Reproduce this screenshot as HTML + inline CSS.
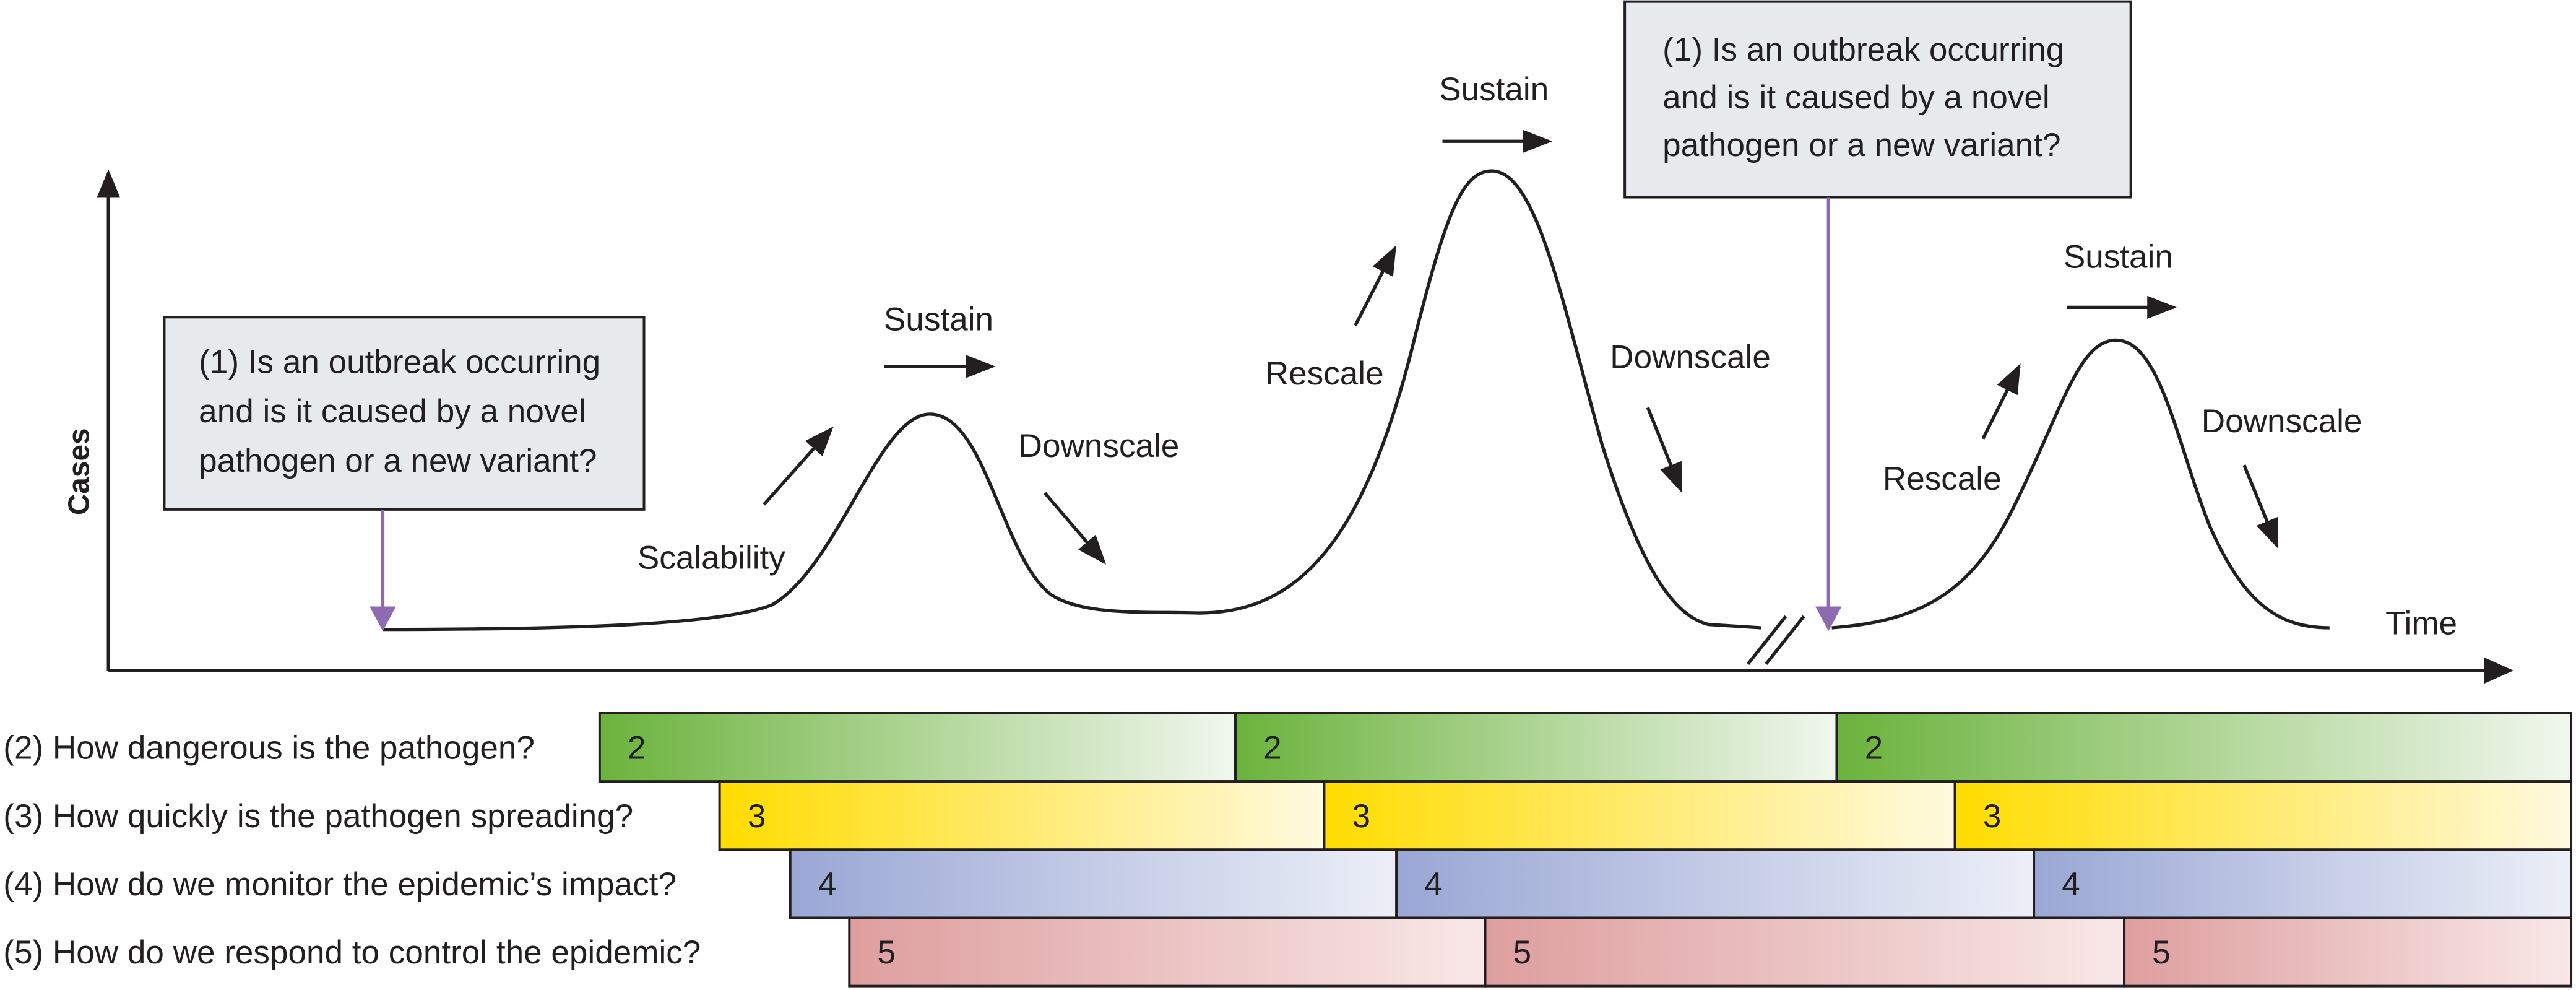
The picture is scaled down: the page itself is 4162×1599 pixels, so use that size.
<!DOCTYPE html>
<html><head><meta charset="utf-8"><style>
html,body{margin:0;padding:0;background:#fff;}
svg{display:block;}
text{font-family:"Liberation Sans",sans-serif;fill:#231f20;}
</style></head><body>
<svg id="chart" width="4162" height="1599" viewBox="0 0 1568 602.4" preserveAspectRatio="none" xmlns="http://www.w3.org/2000/svg">
<defs>
<marker id="ah" viewBox="0 0 18 14" refX="16" refY="7" markerWidth="18" markerHeight="14" markerUnits="userSpaceOnUse" orient="auto"><path d="M0,0 L18,7 L0,14 Z" fill="#231f20"/></marker>
<linearGradient id="g2"><stop offset="0" stop-color="#6bb33c"/><stop offset="1" stop-color="#f1f7ee"/></linearGradient>
<linearGradient id="g3"><stop offset="0" stop-color="#ffdc00"/><stop offset="1" stop-color="#fffae0"/></linearGradient>
<linearGradient id="g4"><stop offset="0" stop-color="#9aa7d5"/><stop offset="1" stop-color="#eceff7"/></linearGradient>
<linearGradient id="g5"><stop offset="0" stop-color="#de9e9e"/><stop offset="1" stop-color="#f9e8e8"/></linearGradient>
</defs>
<line x1="66" y1="408" x2="66" y2="112" stroke="#231f20" stroke-width="2"/>
<path d="M59,120 L66,103 L73,120 Z" fill="#231f20"/>
<line x1="66" y1="408" x2="1518" y2="408" stroke="#231f20" stroke-width="2"/>
<path d="M1512,400 L1530,408 L1512,416 Z" fill="#231f20"/>
<text transform="translate(54,287) rotate(-90)" text-anchor="middle" font-size="18" font-weight="bold">Cases</text>
<text x="1452" y="386" font-size="20">Time</text>
<path fill="none" stroke="#231f20" stroke-width="2" d="M233,383 C350,383 440,380 470,368 C510,345 535,252 566,252 C600,252 610,340 640,362 C660,375 700,372 730,373 C790,373 830,330 860,210 C880,130 890,104 908,104 C935,104 950,180 975,270 C1000,350 1020,375 1040,380 L1072,382"/>
<path d="M1064,404 L1087,375 M1075,404 L1098,375" stroke="#231f20" stroke-width="2" fill="none"/>
<path fill="none" stroke="#231f20" stroke-width="2" d="M1115,382 C1170,378 1200,360 1225,310 C1255,250 1265,207 1288,207 C1315,207 1325,270 1345,320 C1365,365 1385,382 1418,382"/>
<g>
<rect x="100" y="193" width="292" height="117" fill="#e6eaed" stroke="#231f20" stroke-width="1.5"/>
<text x="121" y="227" font-size="20">(1) Is an outbreak occurring</text>
<text x="121" y="257" font-size="20">and is it caused by a novel</text>
<text x="121" y="287" font-size="20">pathogen or a new variant?</text>
</g>
<line x1="233" y1="310" x2="233" y2="372" stroke="#8e6bb0" stroke-width="2"/>
<path d="M225,369 L233,384 L241,369 Z" fill="#8e6bb0"/>
<g>
<rect x="989" y="1" width="308" height="119" fill="#e6eaed" stroke="#231f20" stroke-width="1.5"/>
<text x="1012" y="37" font-size="20">(1) Is an outbreak occurring</text>
<text x="1012" y="66" font-size="20">and is it caused by a novel</text>
<text x="1012" y="95" font-size="20">pathogen or a new variant?</text>
</g>
<line x1="1113" y1="120" x2="1113" y2="372" stroke="#8e6bb0" stroke-width="2"/>
<path d="M1105,369 L1113,384 L1121,369 Z" fill="#8e6bb0"/>
<g font-size="20">
<text x="538" y="201">Sustain</text>
<line x1="538" y1="223" x2="604" y2="223" stroke="#231f20" stroke-width="2" marker-end="url(#ah)"/>
<text x="388" y="346">Scalability</text>
<line x1="465" y1="307" x2="506" y2="261" stroke="#231f20" stroke-width="2" marker-end="url(#ah)"/>
<text x="620" y="278">Downscale</text>
<line x1="636" y1="300" x2="672" y2="342" stroke="#231f20" stroke-width="2" marker-end="url(#ah)"/>
<text x="770" y="234">Rescale</text>
<line x1="825" y1="198" x2="849" y2="151" stroke="#231f20" stroke-width="2" marker-end="url(#ah)"/>
<text x="876" y="61">Sustain</text>
<line x1="878" y1="86" x2="943" y2="86" stroke="#231f20" stroke-width="2" marker-end="url(#ah)"/>
<text x="980" y="224">Downscale</text>
<line x1="1003" y1="248" x2="1023" y2="298" stroke="#231f20" stroke-width="2" marker-end="url(#ah)"/>
<text x="1146" y="298">Rescale</text>
<line x1="1207" y1="267" x2="1229" y2="223" stroke="#231f20" stroke-width="2" marker-end="url(#ah)"/>
<text x="1256" y="163">Sustain</text>
<line x1="1258" y1="187" x2="1323" y2="187" stroke="#231f20" stroke-width="2" marker-end="url(#ah)"/>
<text x="1340" y="263">Downscale</text>
<line x1="1366" y1="283" x2="1386" y2="332" stroke="#231f20" stroke-width="2" marker-end="url(#ah)"/>
</g>
<g id="bars"></g>
</svg>
<script>
const rowLabels = ["(2) How dangerous is the pathogen?","(3) How quickly is the pathogen spreading?","(4) How do we monitor the epidemic\u2019s impact?","(5) How do we respond to control the epidemic?"];
const rowNumbers = ["2","3","4","5"];
const segmentStarts = [[365,752,1118],[438,806,1190],[481,850,1238],[517,904,1293]];
const segmentEnd = 1565;
const rowTop = 434, rowH = 41.5;
const grads = ["g2","g3","g4","g5"];
const NS = "http://www.w3.org/2000/svg";
const g = document.getElementById("bars");
rowLabels.forEach((lab, i) => {
  const y = rowTop + i * rowH;
  const t = document.createElementNS(NS, "text");
  
  
  t.setAttribute("x", 2); t.setAttribute("y", y + rowH/2 + 7); t.setAttribute("font-size", "20");
  t.textContent = lab; g.appendChild(t);
  const st = segmentStarts[i];
  st.forEach((x0, j) => {
    const x1 = j < st.length - 1 ? st[j+1] : segmentEnd;
    const r = document.createElementNS(NS, "rect");
    
    
    r.setAttribute("x", x0); r.setAttribute("y", y); r.setAttribute("width", x1 - x0); r.setAttribute("height", rowH);
    r.setAttribute("fill", "url(#" + grads[i] + ")"); r.setAttribute("stroke", "#231f20"); r.setAttribute("stroke-width", "1.5");
    g.appendChild(r);
    const n = document.createElementNS(NS, "text");
    
    
    n.setAttribute("x", x0 + 17); n.setAttribute("y", y + rowH/2 + 7); n.setAttribute("font-size", "20");
    n.textContent = rowNumbers[i]; g.appendChild(n);
  });
});
</script>
</body></html>
